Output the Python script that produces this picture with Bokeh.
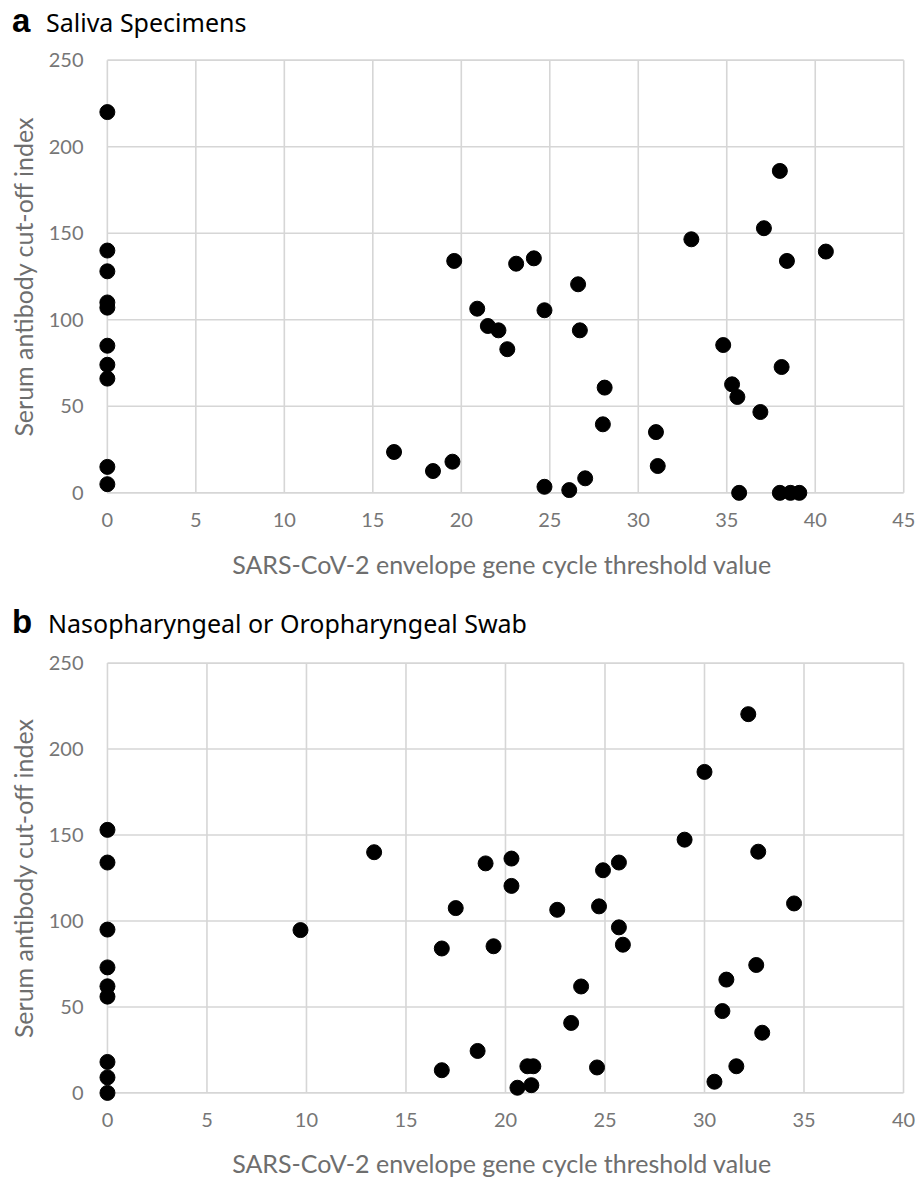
from bokeh.plotting import figure
from bokeh.models import Range1d, FixedTicker, Div
from bokeh.layouts import column
from bokeh.embed import file_html
from bokeh.resources import INLINE

# ---------------- data ----------------
saliva_ct = [0, 0, 0, 0, 0, 0, 0, 0, 0, 0,
             16.2, 18.4, 19.5, 19.6, 20.9, 21.5, 22.1, 22.6, 23.1, 24.1,
             24.7, 24.7, 26.1, 26.6, 26.7, 27.0, 28.1, 28.0, 31.0, 31.1,
             33.0, 34.8, 35.3, 35.6, 35.7, 36.9, 37.1, 38.0, 38.1, 38.4,
             38.0, 38.6, 39.1, 40.6]
saliva_index = [220, 140, 128, 110, 107, 85, 74, 66, 15, 5,
                23.6, 12.6, 18, 134, 106.4, 96.4, 93.9, 83, 132.4, 135.5,
                105.5, 3.5, 1.6, 120.5, 93.9, 8.4, 60.8, 39.6, 35.1, 15.5,
                146.5, 85.4, 62.7, 55.4, 0, 46.7, 152.9, 186, 72.7, 134,
                0, 0, 0, 139.4]

swab_ct = [0, 0, 0, 0, 0, 0, 0, 0, 0,
           9.7, 13.4, 16.8, 16.8, 17.5, 18.6, 19.0, 19.4, 20.3, 20.3,
           20.6, 21.1, 21.4, 21.3, 22.6, 23.3, 23.8, 24.6, 24.7, 24.9,
           25.7, 25.7, 25.9, 29.0, 30.0, 30.5, 30.9, 31.1, 31.6, 32.2,
           32.6, 32.7, 32.9, 34.5]
swab_index = [153, 134, 95, 73, 62, 56, 18, 9, 0,
              94.7, 140, 84, 13.2, 107.5, 24.4, 133.5, 85.3, 136.3, 120.4,
              3, 15.5, 15.5, 4.5, 106.5, 40.7, 61.9, 14.8, 108.5, 129.5,
              134, 96.3, 86.2, 147.3, 186.7, 6.5, 47.6, 65.9, 15.5, 220.3,
              74.4, 140.3, 35, 110.2]

saliva_xticks = [0, 5, 10, 15, 20, 25, 30, 35, 40, 45]
swab_xticks = [0, 5, 10, 15, 20, 25, 30, 35, 40]
yticks = [0, 50, 100, 150, 200, 250]

panel_letters = ["a", "b"]
panel_titles = ["Saliva Specimens", "Nasopharyngeal or Oropharyngeal Swab"]
x_title = "SARS-CoV-2 envelope gene cycle threshold value"
y_title = "Serum antibody cut-off index"

W = 915
GRID = "#d6d6d6"
TICK_COL = "#767676"
TITLE_COL = "#6e6e6e"


def title_div(letter, title, height, letter_top, title_top, letter_x, title_x):
    html = (
        f'<div style="position:relative;width:{W}px;height:{height}px;margin:0;padding:0;">'
        f'<span style="position:absolute;left:{letter_x}px;top:{letter_top}px;'
        f"font-family:'Liberation Sans',Arial,sans-serif;font-weight:bold;"
        f'font-size:33px;line-height:1;color:#000;">{letter}</span>'
        f'<span style="position:absolute;left:{title_x}px;top:{title_top}px;'
        f"font-family:'Noto Sans',sans-serif;font-weight:normal;"
        f'font-size:25px;line-height:1;color:#000;white-space:nowrap;">{title}</span>'
        f'</div>'
    )
    return Div(text=html, width=W, height=height, margin=0)


def make_panel(xs, ys, xticks, x_lo, x_hi, frame_w, height, top, bottom, left,
               xlab_standoff):
    xmax = xticks[-1]
    ymax = yticks[-1]
    p = figure(width=W, height=height,
               x_range=Range1d(x_lo, x_hi), y_range=Range1d(-5, ymax + 5),
               output_backend="svg", toolbar_location=None,
               min_border_left=left, min_border_right=W - left - frame_w,
               min_border_top=top, min_border_bottom=bottom)
    p.xgrid.visible = False
    p.ygrid.visible = False
    p.outline_line_color = None

    # gridlines / box drawn at the tick values
    p.segment(x0=xticks, y0=[0] * len(xticks), x1=xticks, y1=[ymax] * len(xticks),
              line_color=GRID, line_width=1.6)
    p.segment(x0=[0] * len(yticks), y0=yticks, x1=[xmax] * len(yticks), y1=yticks,
              line_color=GRID, line_width=1.6)

    p.scatter(xs, ys, size=15, marker="circle", fill_color="black",
              line_color="black")

    p.xaxis.ticker = FixedTicker(ticks=xticks)
    p.yaxis.ticker = FixedTicker(ticks=yticks)
    for ax in (p.xaxis[0], p.yaxis[0]):
        ax.axis_line_color = None
        ax.major_tick_line_color = None
        ax.minor_tick_line_color = None
        ax.major_tick_out = 0
        ax.major_tick_in = 0
        ax.major_label_text_font = "Lato"
        ax.major_label_text_font_size = "20px"
        ax.major_label_text_color = TICK_COL
        ax.axis_label_text_font = "Lato"
        ax.axis_label_text_font_size = "25px"
        ax.axis_label_text_font_style = "normal"
        ax.axis_label_text_color = TITLE_COL
    p.xaxis.major_label_standoff = 11
    p.yaxis.major_label_standoff = 15
    p.xaxis.axis_label = x_title
    p.yaxis.axis_label = y_title
    p.xaxis.axis_label_standoff = xlab_standoff
    p.yaxis.axis_label_standoff = 8
    return p


ta = title_div(panel_letters[0], panel_titles[0], 40, 4.4, 10.1, 12, 46)
pa = make_panel(saliva_ct, saliva_index, saliva_xticks, -0.5, 45.1, 807,
                557, 11, 96, 98, 19)
tb = title_div(panel_letters[1], panel_titles[1], 46, 8.1, 13.8, 12, 48)
pb = make_panel(swab_ct, swab_index, swab_xticks, -0.45, 40.1, 810,
                537, 11, 77, 98, 18)

layout = column(ta, pa, tb, pb, spacing=0)
open("out.html", "w").write(file_html(layout, INLINE))
